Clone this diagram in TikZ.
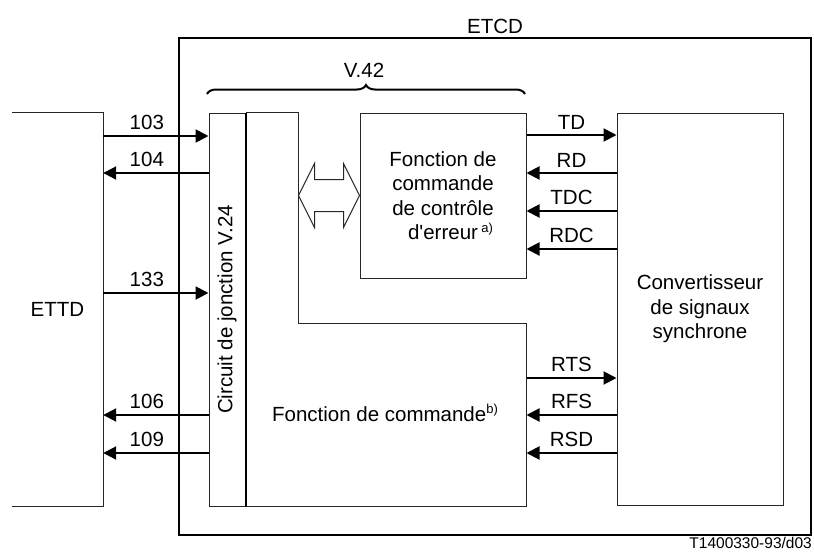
\documentclass[tikz,border=0pt]{standalone}
\usepackage{fontspec}
\setmainfont{Liberation Sans}
\usetikzlibrary{arrows.meta}
\usetikzlibrary{positioning}
\usetikzlibrary{decorations.pathreplacing}

\newcommand{\sups}[1]{\raisebox{0.7ex}{\fontsize{13}{13}\selectfont #1}}

\begin{document}
\begin{tikzpicture}[
    x=1pt, y=-1pt,
    every node/.style={font=\fontsize{20.5}{24.5}\selectfont},
    box/.style={rectangle, draw=black!85, line width=1pt, inner sep=0pt},
    frame/.style={draw=black!85, line width=1pt},
    sig/.style={line width=2pt, -{Triangle[length=13pt,width=13pt]}},
    sig label/.style={above, inner sep=5pt},
  ]
  \useasboundingbox (0,0) rectangle (814,552);

  \node[box, draw=black, line width=1.3pt, minimum width=632pt, minimum height=497pt] (ETCD) at (495,286.5) {};
  \node[above] (ETCD label) at (ETCD.north) {ETCD};

  \node[minimum width=91pt, minimum height=393pt, inner sep=0pt] (ETTD) at (57.5,309.5) {ETTD};
  \draw[frame] (ETTD.north west) -- (ETTD.north east) -- (ETTD.south east) -- (ETTD.south west);

  \node[box, minimum width=36pt, minimum height=393pt] (V24) at (227,309.5) {};
  \node[rotate=90] (V24 label) at (V24.center) {Circuit de jonction V.24};
  \draw[line width=2pt] (V24.north east) -- (V24.south east);

  \node[box, minimum width=166pt, minimum height=165pt, align=center] (ERR) at (443,195.5)
    {Fonction de\\commande\\de contrôle\\d\textquotesingle erreur\rlap{\,\sups{a)}}};
  \node[box, minimum width=166pt, minimum height=392pt, align=center] (CONV) at (700,309)
    {Convertisseur\\de signaux\\synchrone};

  \draw[frame] (V24.north east) -| (298,323) -| (ERR.east |- V24.south) -- (V24.south east);
  \node (CMD) at (385,413) {Fonction de commande\sups{b)}};

  \draw[frame, fill=white] (ERR.west) -- ++(-16,-32) -- ++(0,16) -- ++(-29,0) -- ++(0,-16)
    -- ++(-16,32) -- ++(16,32) -- ++(0,-16) -- ++(29,0) -- ++(0,16) -- cycle;

  \draw[decorate, decoration={brace, amplitude=9pt}, line width=2pt] (207,94) -- (525,94);
  \node (V42) at (364,70) {V.42};

  \draw[sig] (ETTD.east |- 0,136) -- node[sig label, xshift=-9pt] {103} (V24.west |- 0,136);
  \draw[sig] (V24.west |- 0,173) -- node[sig label, xshift=-9pt] {104} (ETTD.east |- 0,173);
  \draw[sig] (ETTD.east |- 0,293) -- node[sig label, xshift=-9pt] {133} (V24.west |- 0,293);
  \draw[sig] (V24.west |- 0,415) -- node[sig label, xshift=-9pt] {106} (ETTD.east |- 0,415);
  \draw[sig] (V24.west |- 0,453) -- node[sig label, xshift=-9pt] {109} (ETTD.east |- 0,453);

  \draw[sig] (ERR.east |- 0,135) -- node[sig label] {TD} (CONV.west |- 0,135);
  \draw[sig] (CONV.west |- 0,173) -- node[sig label] {RD} (ERR.east |- 0,173);
  \draw[sig] (CONV.west |- 0,211) -- node[sig label] {TDC} (ERR.east |- 0,211);
  \draw[sig] (CONV.west |- 0,249) -- node[sig label] {RDC} (ERR.east |- 0,249);
  \draw[sig] (ERR.east |- 0,378) -- node[sig label] {RTS} (CONV.west |- 0,378);
  \draw[sig] (CONV.west |- 0,415) -- node[sig label] {RFS} (ERR.east |- 0,415);
  \draw[sig] (CONV.west |- 0,453) -- node[sig label] {RSD} (ERR.east |- 0,453);

  \node[anchor=east, inner sep=0pt, font=\fontsize{15.5}{15.5}\selectfont] (code) at (812,543) {T1400330-93/d03};
\end{tikzpicture}
\end{document}
